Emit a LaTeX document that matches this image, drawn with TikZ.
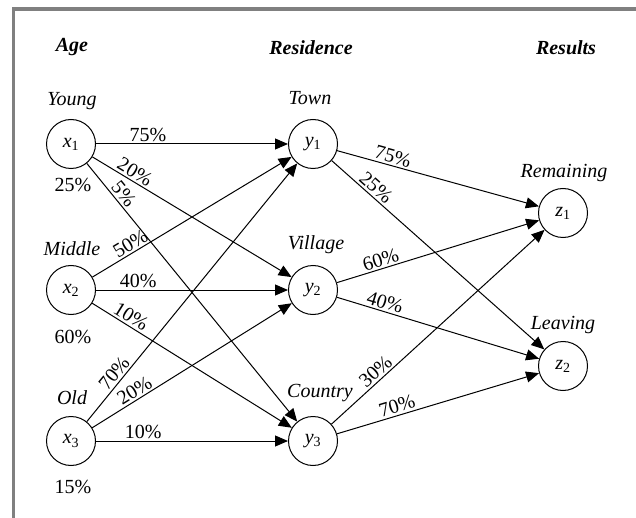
\documentclass[tikz,border=0pt]{standalone}
\usepackage{fontspec}
\setmainfont{Liberation Serif}
\usetikzlibrary{arrows.meta}
\definecolor{framegray}{RGB}{128,128,128}
\newcommand\vr[2]{\textit{#1}\textsubscript{\fontsize{14}{14}\selectfont #2}}
\begin{document}
\begin{tikzpicture}[x=1pt,y=-1pt,
  every node/.style={font=\fontsize{20}{24}\selectfont},
  var/.style={circle,draw,line width=1pt,minimum size=49pt,inner sep=0pt},
  lab/.style={font=\fontsize{20}{24}\selectfont\itshape,anchor=base},
  head/.style={font=\fontsize{20}{24}\selectfont\bfseries\itshape,anchor=base},
  pct/.style={anchor=base},
  edge/.style={line width=1pt,-{Triangle[length=13pt,width=11pt]}},
  el/.style={sloped,above,inner sep=2pt}
]
\useasboundingbox (0,0) rectangle (636,518);
\draw[line width=3.5pt,framegray] (13.7,700) -- (13.7,9) -- (800,9);

% headings
\node[head] (hAge) at (72,52) {Age};
\node[head] (hRes) at (311,55) {Residence};
\node[head] (hRes2) at (566,55) {Results};

% variable nodes
\node[var] (x1) at (71,144) {\vr{x}{1}};
\node[var] (x2) at (71,290) {\vr{x}{2}};
\node[var] (x3) at (71,441) {\vr{x}{3}};
\node[var] (y1) at (313,144) {\vr{y}{1}};
\node[var] (y2) at (313,290) {\vr{y}{2}};
\node[var] (y3) at (313,441) {\vr{y}{3}};
\node[var] (z1) at (563,213) {\vr{z}{1}};
\node[var] (z2) at (563,366) {\vr{z}{2}};

% category labels
\node[lab] (lYoung) at (72,106) {Young};
\node[lab] (lMiddle) at (72,255) {Middle};
\node[lab] (lOld) at (72,404) {Old};
\node[lab] (lTown) at (310,105) {Town};
\node[lab] (lVillage) at (316,250) {Village};
\node[lab] (lCountry) at (320,397) {Country};
\node[lab] (lRem) at (564,178) {Remaining};
\node[lab] (lLeave) at (563,329) {Leaving};

% shares
\node[pct] (p1) at (73,192) {25\%};
\node[pct] (p2) at (73,343) {60\%};
\node[pct] (p3) at (73,493) {15\%};

% edges age -> residence
\draw[edge] (x1) -- node[el,pos=0.27]{75\%} (y1);
\draw[edge] (x1) -- node[el,pos=0.19]{20\%} (y2);
\draw[edge] (x1) -- node[el,pos=0.142]{5\%} (y3);
\draw[edge] (x2) -- node[el,pos=0.215]{50\%} (y1);
\draw[edge] (x2) -- node[el,pos=0.22]{40\%} (y2);
\draw[edge] (x2) -- node[el,pos=0.17]{10\%} (y3);
\draw[edge] (x3) -- node[el,pos=0.164]{70\%} (y1);
\draw[edge] (x3) -- node[el,pos=0.237]{20\%} (y2);
\draw[edge] (x3) -- node[el,pos=0.246]{10\%} (y3);

% edges residence -> results
\draw[edge] (y1) -- node[el,pos=0.265]{75\%} (z1);
\draw[edge] (y1) -- node[el,pos=0.18]{25\%} (z2);
\draw[edge] (y2) -- node[el,pos=0.23]{60\%} (z1);
\draw[edge] (y2) -- node[el,pos=0.225]{40\%} (z2);
\draw[edge] (y3) -- node[el,pos=0.236]{30\%} (z1);
\draw[edge] (y3) -- node[el,pos=0.31]{70\%} (z2);
\end{tikzpicture}
\end{document}
